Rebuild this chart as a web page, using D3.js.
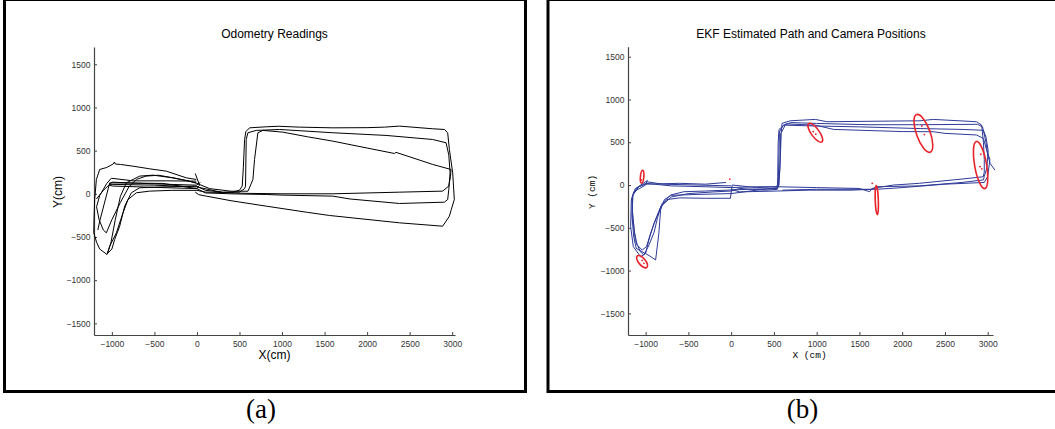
<!DOCTYPE html>
<html>
<head>
<meta charset="utf-8">
<script src="https://cdn.jsdelivr.net/npm/d3@7"></script>
<style>
  body { margin: 0; background: #fff; }
  svg { display: block; }
  .tick text { font-family: "Liberation Sans", Arial, sans-serif; font-size: 8.5px; fill: #333; }
</style>
</head>
<body>
<svg id="chart" width="1055" height="429"></svg>
<script>
// ---- data (cm) ----
var xTicks = [-1000, -500, 0, 500, 1000, 1500, 2000, 2500, 3000];
var yTicks = [-1500, -1000, -500, 0, 500, 1000, 1500];

// odometry runs, panel (a)
var odoRun1 = [[-8,166],[-125,185],[-360,262],[-560,290],[-751,320],[-900,340],[-960,345],[-970,368],[-985,345],[-1060,305],[-1143,282],[-1182,166],[-1202,-66],[-1210,-300],[-1213,-452],[-1180,-560],[-1143,-640],[-1057,-703],[-1025,-606],[-947,-452],[-869,-220],[-810,-66],[-712,12],[-556,31],[-300,40],[0,40],[100,20],[300,15],[423,19],[501,42],[532,89],[545,300],[560,629],[575,720],[618,764],[814,776],[960,782],[1205,772],[1597,764],[2000,766],[2204,772],[2380,784],[2771,753],[2908,745],[2947,707],[2967,514],[3006,243],[3025,-66],[2990,-180],[2967,-259],[2888,-375],[2380,-336],[1558,-251],[1300,-215],[814,-143],[400,-80],[110,-27],[20,-10],[-20,20]];
var odoRun2 = [[-8,127],[-282,185],[-517,216],[-673,205],[-830,127],[-900,-30],[-960,-300],[-1010,-560],[-1050,-690],[-1000,-640],[-967,-529],[-908,-375],[-849,-143],[-771,12],[-673,70],[-400,80],[-8,89],[100,40],[300,20],[500,20],[560,60],[571,89],[579,629],[599,707],[697,734],[971,745],[1597,707],[2223,676],[2771,629],[2928,591],[2960,450],[2975,243],[2960,50],[2947,-66],[2908,-97],[2380,-112],[1800,-60],[1597,-27],[1000,-15],[814,-8],[400,0],[100,10],[0,60],[-400,120],[-1025,127],[-1143,-317],[-1165,-420]];
var odoRun3 = [[-8,147],[-360,150],[-751,150],[-1006,180],[-1060,120],[-1143,-20],[-1180,-150],[-1150,-300],[-1100,-420],[-1065,-452],[-1000,-300],[-900,-100],[-800,80],[-712,166],[-600,205],[-450,215],[-282,185],[-100,150],[0,120],[150,60],[400,30],[600,30],[658,166],[677,398],[716,707],[775,734],[1010,714],[1300,660],[1597,610],[2000,530],[2321,467],[2340,480],[2771,340],[2986,282],[2980,200],[2959,89],[2888,31],[2380,19],[1597,0],[1000,0],[600,5],[300,15],[0,80],[-500,100],[-1025,110],[-1100,40],[-1182,-60]];
var odoRun4 = [[40,130],[-8,100],[-500,115],[-1000,135],[-1030,100],[-990,90],[-500,75],[0,60],[30,100],[-20,235]];

// EKF runs, panel (b)
var ekfRun1 = [[-980,60],[-1000,0],[-1137,-78],[-1167,-175],[-1175,-487],[-1144,-721],[-1058,-838],[-1000,-798],[-962,-643],[-903,-448],[-805,-214],[-708,-117],[-553,-78],[-300,-70],[0,-58],[200,-50],[537,-40],[560,0],[575,300],[585,600],[595,721],[692,751],[984,767],[1120,740],[1600,745],[2209,751],[2364,767],[2870,740],[2929,701],[2950,500],[2960,300],[2960,150],[2948,97],[2700,70],[2200,20],[1900,0],[1650,-39],[1620,-78],[1500,-40],[1000,-30],[537,-20],[300,-20],[0,-30]];
var ekfRun2 = [[0,-30],[-300,-20],[-700,-10],[-1000,20],[-1120,-40],[-1160,-150],[-1150,-400],[-1120,-650],[-1060,-780],[-1020,-820],[-960,-700],[-900,-550],[-860,-380],[-820,-250],[-750,-170],[-600,-150],[-300,-155],[-8,-155],[12,0],[300,-30],[530,-20],[550,20],[560,350],[565,620],[610,700],[700,730],[1000,720],[1600,705],[2200,705],[2880,710],[2940,680],[2980,500],[3000,350],[3030,250],[3084,175]];
var ekfRun3 = [[0,-10],[-400,0],[-800,10],[-1000,40],[-1100,-30],[-1150,-120],[-1155,-300],[-1130,-550],[-1100,-700],[-1040,-760],[-990,-720],[-940,-560],[-880,-400],[-820,-250],[-700,-140],[-500,-100],[-200,-80],[0,-70],[100,-40],[400,-60],[540,-50],[545,100],[550,500],[560,650],[620,700],[984,690],[1500,680],[2209,660],[2700,650],[2950,640],[2980,560],[3006,400],[2990,200],[2960,100],[2950,60],[2700,30],[2200,-10],[1700,-20],[1650,-50],[1400,-60],[900,-60],[540,-70],[100,-80],[0,-50]];
var ekfRun4 = [[-60,30],[-300,10],[-600,20],[-1000,10],[-1080,-20],[-1150,-120],[-1160,-350],[-1140,-600],[-1110,-740],[-1040,-780],[-950,-830],[-883,-876],[-845,-564],[-825,-292],[-780,-170],[-700,-120],[-400,-110],[0,-100],[300,-60],[550,-30],[570,200],[580,600],[640,715],[984,700],[1200,650],[2000,625],[2364,623],[2500,604],[2870,585],[2950,545],[2990,400],[3026,300],[3000,100],[2960,30],[2500,10],[2000,-30],[1700,-50],[1000,-50],[600,-60]];

// camera position uncertainty: centre, semi-axes (cm), rotation (deg)
var camCx    = [-1041, -1041,  984, 2248, 2917, 1703];
var camCy    = [   97,  -896,  611,  604,  234, -175];
var camRx    = [   75,    88,  132,  234,  280,  170];
var camRy    = [   20,    40,   47,   80,   70,   18];
var camAngle = [   85,   -50,  -54,  -70,  -80,  -88];
var camPoints = [[-16,70],[-1050,60],[-1040,-880],[-1020,-915],[960,625],[990,595],[2230,690],[2260,590],[2320,640],[2920,360],[2910,215],[2930,190],[1650,20]];

var svg = d3.select('#chart');

function drawPanel(p)
{
    var g = svg.append('g');

    // frame
    g.append('rect')
        .attr('x', p.frame[0]).attr('y', p.frame[1])
        .attr('width', p.frame[2]).attr('height', p.frame[3])
        .attr('fill', 'none').attr('stroke', '#000').attr('stroke-width', 3);

    var x = d3.scaleLinear().domain(p.xDomain).range(p.xRange);
    var y = d3.scaleLinear().domain(p.yDomain).range(p.yRange);

    var xAxis = d3.axisBottom(x).tickValues(xTicks).tickFormat(d3.format('d'))
        .tickSizeInner(-3).tickSizeOuter(0).tickPadding(6);
    var yAxis = d3.axisLeft(y).tickValues(yTicks).tickFormat(d3.format('d'))
        .tickSizeInner(-3).tickSizeOuter(0).tickPadding(3.5);

    var gx = g.append('g').attr('transform', 'translate(0,' + p.yRange[0] + ')').call(xAxis);
    var gy = g.append('g').attr('transform', 'translate(' + p.xRange[0] + ',0)').call(yAxis);
    [gx, gy].forEach(function(a) {
        a.select('.domain').attr('stroke', '#444').attr('stroke-width', 1.2);
        a.selectAll('.tick line').attr('stroke', '#444');
        a.attr('font-family', null).attr('font-size', null);
    });

    // paths
    var line = d3.line().x((d) => x(d[0])).y((d) => y(d[1]));
    g.selectAll('path.run').data(p.runs).enter().append('path')
        .attr('class', 'run')
        .attr('d', line)
        .attr('fill', 'none')
        .attr('stroke', p.color)
        .attr('stroke-width', 1)
        .attr('stroke-linejoin', 'round');

    // texts
    g.append('text').attr('x', p.titleX).attr('y', 38)
        .attr('text-anchor', 'middle')
        .style('font-family', '"Liberation Sans", Arial, sans-serif').style('font-size', '12px')
        .text(p.title);
    g.append('text').attr('x', p.xLabelX).attr('y', p.xLabelY)
        .attr('text-anchor', 'middle')
        .style('font-family', p.labelFont).style('font-size', p.labelSize)
        .text(p.xLabel);
    g.append('text')
        .attr('transform', 'translate(' + p.yLabelX + ',' + p.yLabelY + ') rotate(-90)')
        .attr('text-anchor', 'middle').attr('dominant-baseline', 'central')
        .style('font-family', p.labelFont).style('font-size', p.labelSize)
        .text(p.yLabel);
    g.append('text').attr('x', p.captionX).attr('y', 418)
        .attr('text-anchor', 'middle')
        .style('font-family', '"Liberation Serif", "Times New Roman", serif').style('font-size', '27px')
        .text(p.caption);

    return {g: g, x: x, y: y};
}

drawPanel({
    frame: [4.5, -0.5, 521, 392],
    xDomain: [-1210, 3033], xRange: [94, 455],
    yDomain: [-1635, 1700], yRange: [335, 47],
    runs: [odoRun1, odoRun2, odoRun3, odoRun4],
    color: '#000',
    title: 'Odometry Readings', titleX: 274.5,
    xLabel: 'X(cm)', xLabelX: 274.5, xLabelY: 359,
    yLabel: 'Y(cm)', yLabelX: 57.5, yLabelY: 192,
    labelFont: '"Liberation Sans", Arial, sans-serif', labelSize: '12px',
    caption: '(a)', captionX: 261
});

var pb = drawPanel({
    frame: [548, -0.5, 520, 392],
    xDomain: [-1206, 3062], xRange: [628, 993],
    yDomain: [-1753, 1617], yRange: [335, 46.7],
    runs: [ekfRun1, ekfRun2, ekfRun3, ekfRun4],
    color: '#2e3a98',
    title: 'EKF Estimated Path and Camera Positions', titleX: 811,
    xLabel: 'X (cm)', xLabelX: 809.5, xLabelY: 358,
    yLabel: 'Y (cm)', yLabelX: 592, yLabelY: 192,
    labelFont: '"Liberation Mono", "DejaVu Sans Mono", monospace', labelSize: '9.5px',
    caption: '(b)', captionX: 802.5
});

// camera ellipses
var xs = pb.x, ys = pb.y;
pb.g.selectAll('ellipse.cam').data(d3.range(camCx.length)).enter().append('ellipse')
    .attr('class', 'cam')
    .attr('transform', (i) => 'translate(' + xs(camCx[i]) + ',' + ys(camCy[i]) + ') rotate(' + (-camAngle[i]) + ')')
    .attr('rx', (i) => xs(camCx[i] + camRx[i]) - xs(camCx[i]))
    .attr('ry', (i) => ys(camCy[i]) - ys(camCy[i] + camRy[i]))
    .attr('fill', 'none')
    .attr('stroke', '#e8232a')
    .attr('stroke-width', 1.6);

pb.g.selectAll('circle.cam').data(camPoints).enter().append('circle')
    .attr('class', 'cam')
    .attr('cx', (d) => xs(d[0])).attr('cy', (d) => ys(d[1]))
    .attr('r', 0.9)
    .attr('fill', '#e8232a');
</script>
</body>
</html>
